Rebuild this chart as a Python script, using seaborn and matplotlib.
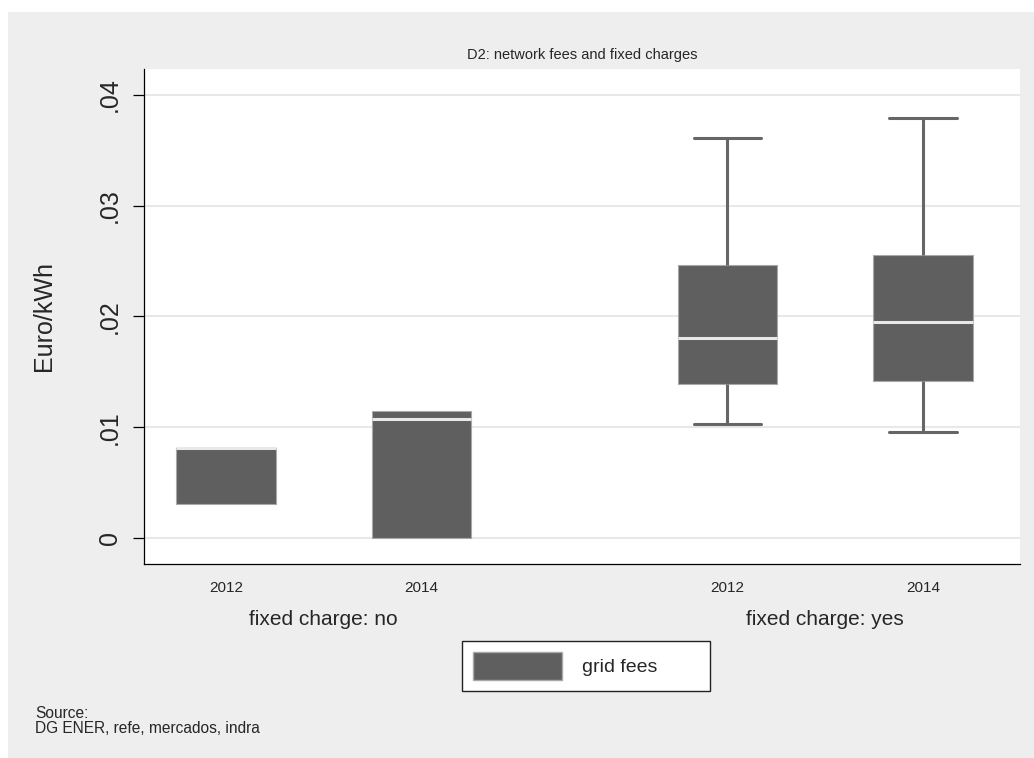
import matplotlib
matplotlib.use("Agg")
import matplotlib.pyplot as plt
from matplotlib.patches import Patch, Rectangle
import numpy as np
import pandas as pd
import seaborn as sns

# box summaries: min, q1, median, q3, max (Euro/kWh)
no_2012 = [0.00307, 0.00307, 0.00817, 0.00817, 0.00817]
no_2014 = [0.0, 0.0, 0.01075, 0.01150, 0.01150]
yes_2012 = [0.01029, 0.01391, 0.01806, 0.02465, 0.03610]
yes_2014 = [0.00957, 0.01418, 0.01950, 0.02555, 0.03792]

groups = ["no", "yes"]
years = ["2012", "2014"]
y_ticks = [0, 0.01, 0.02, 0.03, 0.04]
y_tick_labels = ["0", ".01", ".02", ".03", ".04"]

rows = []
for fixed, year, vals in [("no", "2012", no_2012), ("no", "2014", no_2014),
                          ("yes", "2012", yes_2012), ("yes", "2014", yes_2014)]:
    for v in vals:
        rows.append({"fixed": fixed, "year": year, "value": v})
df = pd.DataFrame(rows)

sns.set_theme(style="white")
plt.rcParams["font.family"] = ["Liberation Sans", "DejaVu Sans"]

BOX = "#5f5f5f"
width = 0.78
gap = 0.49
box_w = width / 2 * (1 - gap)

fig = plt.figure(figsize=(10.34, 7.58), dpi=100, facecolor="white")
fig.add_artist(Rectangle((8 / 1034, 0), 1, (758 - 12) / 758, transform=fig.transFigure,
                         facecolor="#eeeeee", edgecolor="none", zorder=-10))
ax = fig.add_axes([144 / 1034, (758 - 564) / 758, 876 / 1034, 495 / 758])
ax.set_facecolor("white")

box_kws = dict(x="fixed", y="value", hue="year", order=groups, hue_order=years,
               palette=[BOX, BOX], width=width, gap=gap, whis=(0, 100), legend=False,
               saturation=1, ax=ax, capwidths=0.68 * box_w,
               boxprops=dict(edgecolor="#a8a8a8", linewidth=0.8),
               medianprops=dict(color="#e8e8e8", linewidth=2.2),
               whiskerprops=dict(color="#666666", linewidth=2.2),
               capprops=dict(color="#666666", linewidth=2.2))
# the "no" boxes have no whiskers, so no caps either
sns.boxplot(data=df[df["fixed"] == "no"], showcaps=False, **box_kws)
sns.boxplot(data=df[df["fixed"] == "yes"], **box_kws)

ax.set_xlim(-0.358, 1.388)
ax.set_ylim(-0.00235, 0.04235)
ax.set_yticks(y_ticks)
ax.set_yticklabels(y_tick_labels, rotation=90, va="center", fontsize=18)
ax.tick_params(axis="y", length=8, width=0.9, color="black", pad=8, left=True)
ax.yaxis.grid(True, color="#e8e8e8", linewidth=1.5)
ax.set_axisbelow(True)

xpos = [i + off for i in range(len(groups)) for off in (-width / 4, width / 4)]
ax.set_xticks(xpos)
ax.set_xticklabels(years * len(groups), fontsize=11)
ax.tick_params(axis="x", length=0, pad=12)
for i, g in enumerate(groups):
    ax.text(i, -0.113, f"fixed charge: {g}", transform=ax.get_xaxis_transform(),
            ha="center", va="center", fontsize=15)

ax.set_xlabel("")
ax.set_ylabel("Euro/kWh", fontsize=18)
ax.yaxis.set_label_coords(-0.1, 0.5)
ax.set_title("D2: network fees and fixed charges", fontsize=10.5, pad=7)

for side in ["top", "right"]:
    ax.spines[side].set_visible(False)
for side in ["left", "bottom"]:
    ax.spines[side].set_color("black")
    ax.spines[side].set_linewidth(0.9)

leg = fig.legend(handles=[Patch(facecolor=BOX, edgecolor="#a8a8a8", label="grid fees")],
                 loc="center", bbox_to_anchor=(462 / 1034, 0.0914, 248 / 1034, 0.06),
                 mode="expand", borderaxespad=0, fontsize=14, handlelength=4.6,
                 handleheight=1.83, handletextpad=1.0, borderpad=0.55,
                 fancybox=False, frameon=True, framealpha=1)
leg.get_frame().set_edgecolor("#222222")
leg.get_frame().set_linewidth(1.0)
leg.get_frame().set_facecolor("white")

fig.text(35 / 1034, 1 - 706 / 758, "Source:\nDG ENER, refe, mercados, indra",
         fontsize=11.2, va="top", ha="left", linespacing=1.0)

fig.savefig("out.png", dpi=100, facecolor=fig.get_facecolor())
